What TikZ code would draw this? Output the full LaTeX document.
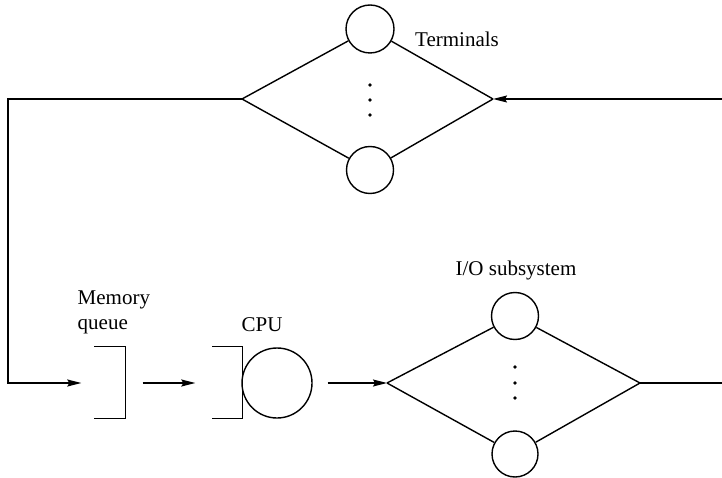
\documentclass[tikz,border=0pt]{standalone}
\usepackage{fontspec}
\setmainfont{Liberation Serif}
\usetikzlibrary{arrows.meta}

\begin{document}
\begin{tikzpicture}[x=1pt,y=-1pt,
  line width=1.4pt,
  server/.style={circle,draw,inner sep=0pt,line width=1.4pt},
  qslot/.style={rectangle,inner sep=0pt,minimum width=30pt,minimum height=71pt},
  dotmark/.style={circle,fill,inner sep=0pt,minimum size=3.6pt},
  lbl/.style={font=\fontsize{21}{25}\selectfont,inner sep=0pt},
  flow/.style={-{Stealth[length=14pt,width=7pt,inset=2pt]}},
]
\useasboundingbox (0,0) rectangle (722,478);

% ---- terminals ----
\node[server,minimum size=48pt] (t1) at (370,29) {};
\node[server,minimum size=47pt] (t2) at (370,170) {};
\coordinate (tl) at (242,99);
\coordinate (tr) at (493,99);
\draw (tl) -- (t1) -- (tr);
\draw (tl) -- (t2) -- (tr);
\node[dotmark] (td1) at (370,85) {};
\node[dotmark] (td2) at (370,100) {};
\node[dotmark] (td3) at (370,115) {};
\node[lbl] (tlab) at (457,39) {Terminals};

% ---- memory queue ----
\node[qslot] (mq) at (110,382.5) {};
\draw (mq.north west) -- (mq.north east) -- (mq.south east) -- (mq.south west);
\node[lbl,align=left,anchor=west] (mqlab) at (77,312) {Memory\\queue};

% ---- CPU ----
\node[qslot,minimum width=29pt] (cq) at (227.5,382.5) {};
\draw (cq.north west) -- (cq.north east) -- (cq.south east) -- (cq.south west);
\node[server,minimum size=70pt] (cpu) at (277,383) {};
\node[lbl] (cpulab) at (262,325) {CPU};

% ---- I/O subsystem ----
\node[server,minimum size=47pt] (io1) at (515,316) {};
\node[server,minimum size=46pt] (io2) at (515,454) {};
\coordinate (il) at (387,383);
\coordinate (ir) at (640,383);
\draw (il) -- (io1) -- (ir);
\draw (il) -- (io2) -- (ir);
\node[dotmark] (id1) at (515,367) {};
\node[dotmark] (id2) at (515,383) {};
\node[dotmark] (id3) at (515,398) {};
\node[lbl] (iolab) at (516,270) {I/O subsystem};

% ---- connectors ----
\coordinate (inR) at (722,99);
\coordinate (cTop) at (8,99);
\coordinate (cBot) at (8,383);
\coordinate (outR) at (722,383);
\draw[flow] (inR) -- (tr);
\draw[flow,shorten >=13pt] (tl) -- (cTop) -- (cBot) -- (mq.west |- cBot);
\draw[flow,shorten <=17pt,shorten >=17pt] (mq.east |- cBot) -- (cq.west |- cBot);
\draw[flow,shorten <=15pt] (cpu.east) -- (il);
\draw (ir) -- (outR);
\end{tikzpicture}
\end{document}
